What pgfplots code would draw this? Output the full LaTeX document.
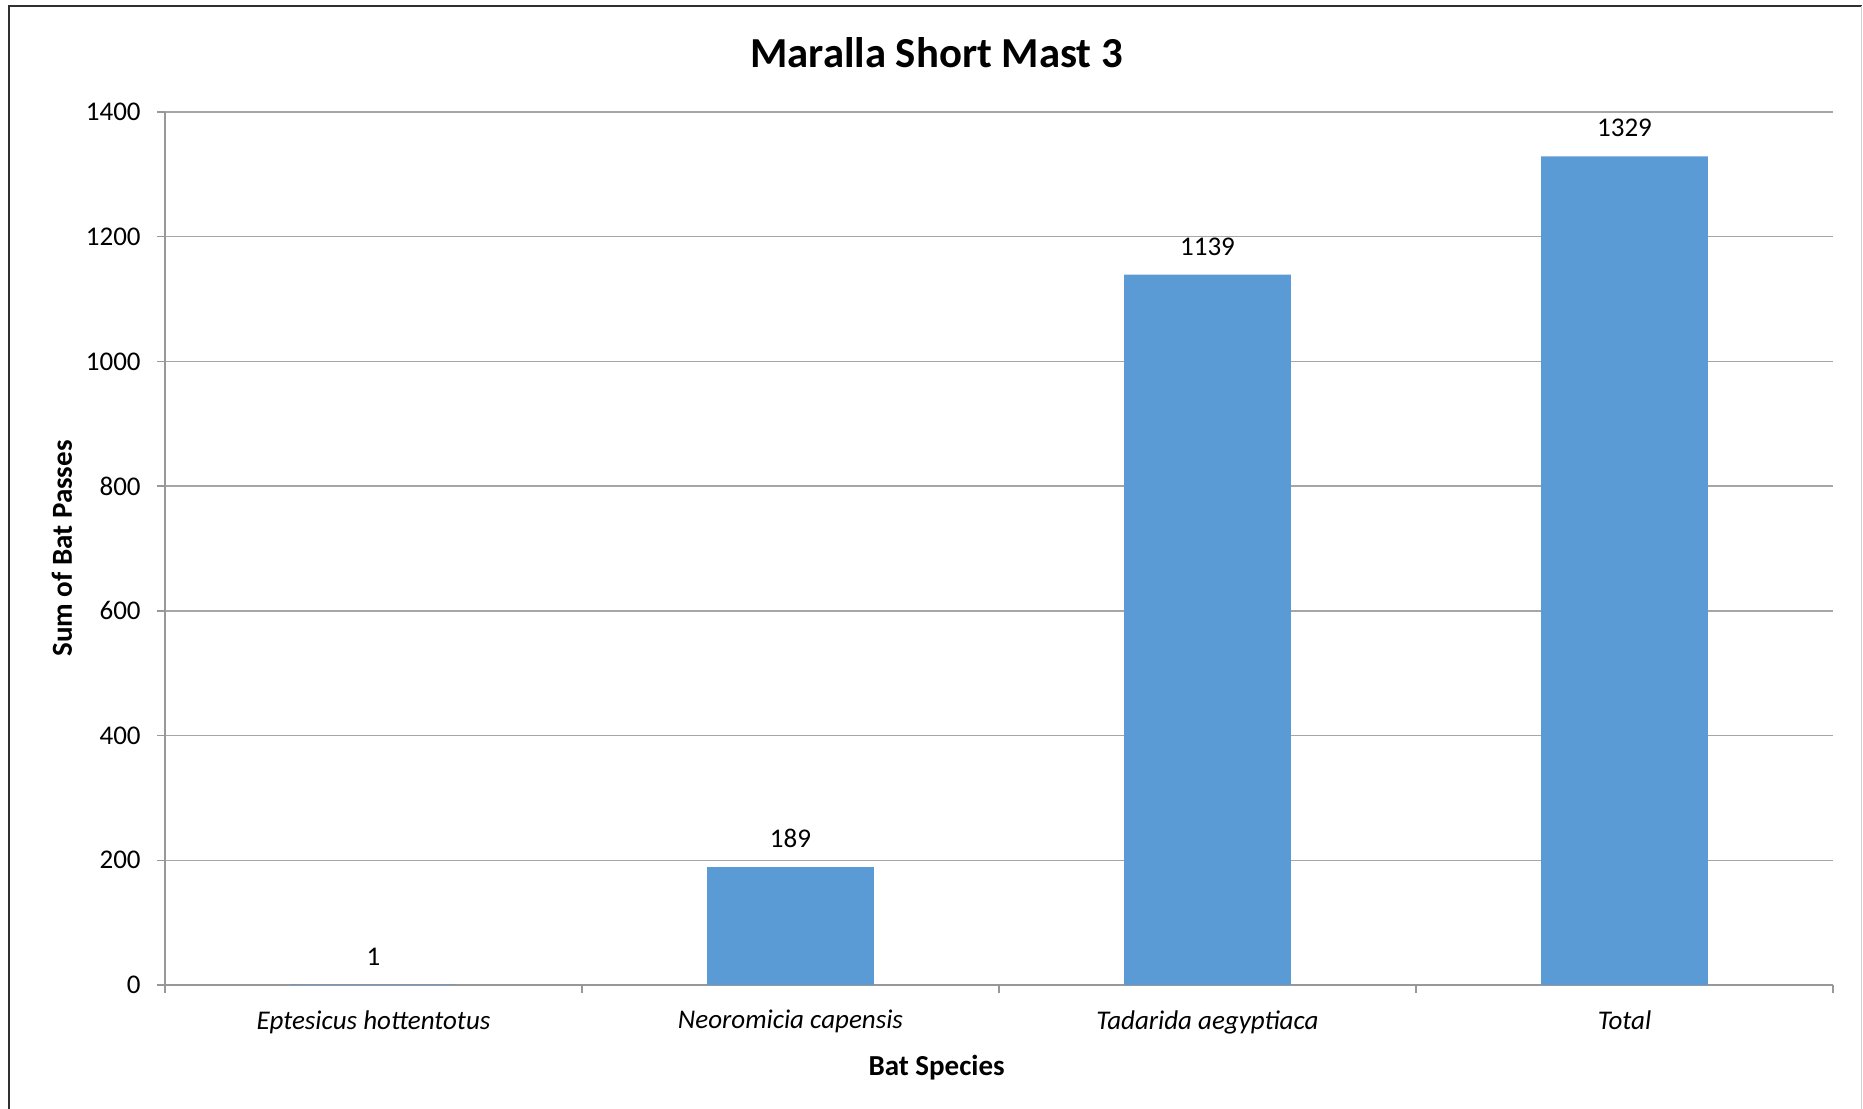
\documentclass[border=0pt]{standalone}
\usepackage{fontspec}
\setmainfont{Carlito}
\usepackage{pgfplots}
\pgfplotsset{compat=1.18}
\definecolor{barblue}{HTML}{5B9BD5}
\definecolor{gridgray}{HTML}{A6A6A6}
\definecolor{axisgray}{HTML}{989898}
\definecolor{framedark}{HTML}{303030}
\definecolor{framelight}{HTML}{D0D0D0}

\begin{document}
\begin{tikzpicture}
% page frame (picture is a crop of a bordered chart)
\useasboundingbox (-66pt,-49.6pt) rectangle (679.2pt,394pt);
\draw[framedark, line width=0.8pt] (-62.4pt,-49.6pt) -- (-62.4pt,391.6pt) -- (678.6pt,391.6pt);
\draw[framelight, line width=0.6pt] (678.6pt,391.6pt) -- (678.6pt,-49.6pt);

\begin{axis}[
    at={(0,0)}, anchor=south west,
    scale only axis,
    width=667.2pt, height=349.2pt,
    ybar,
    bar width=0.4,
    xmin=-0.5, xmax=3.5,
    ymin=0, ymax=1400,
    ytick={0,200,...,1400},
    xtick={-0.5,0.5,1.5,2.5,3.5},
    xticklabels={Eptesicus hottentotus, Neoromicia capensis, Tadarida aegyptiaca, Total},
    x tick label as interval,
    axis x line*=bottom,
    axis y line*=left,
    axis line style={axisgray, line width=0.6pt},
    tick style={axisgray, line width=0.6pt},
    tick align=outside,
    major tick length=3.2pt,
    ymajorgrids,
    grid style={gridgray, line width=0.6pt},
    /pgf/number format/assume math mode=true,
    /pgf/number format/1000 sep={},
    yticklabel style={font=\fontsize{10.8}{12}\selectfont, xshift=-3pt},
    xticklabel style={font=\fontsize{10.8}{12}\selectfont\itshape, yshift=-3.4pt},
    title={Maralla Short Mast 3},
    every axis title/.style={at={(axis description cs:0.4626,1.0676)}, anchor=center,
        font=\fontsize{17.1}{20}\selectfont\bfseries},
    xlabel={Bat Species},
    xlabel style={at={(axis description cs:0.4626,-0.0946)}, anchor=center,
        font=\fontsize{11.6}{13}\selectfont\bfseries},
    ylabel={Sum of Bat Passes},
    ylabel style={at={(axis description cs:-0.0618,0.5)}, anchor=center, rotate=0,
        font=\fontsize{11.6}{13}\selectfont\bfseries},
    nodes near coords,
    nodes near coords style={font=\fontsize{10.8}{12}\selectfont, anchor=south, yshift=4.2pt},
]
\addplot[fill=barblue, draw=none] coordinates {
    (0,1) (1,189) (2,1139) (3,1329)
};
\end{axis}
\end{tikzpicture}
\end{document}
